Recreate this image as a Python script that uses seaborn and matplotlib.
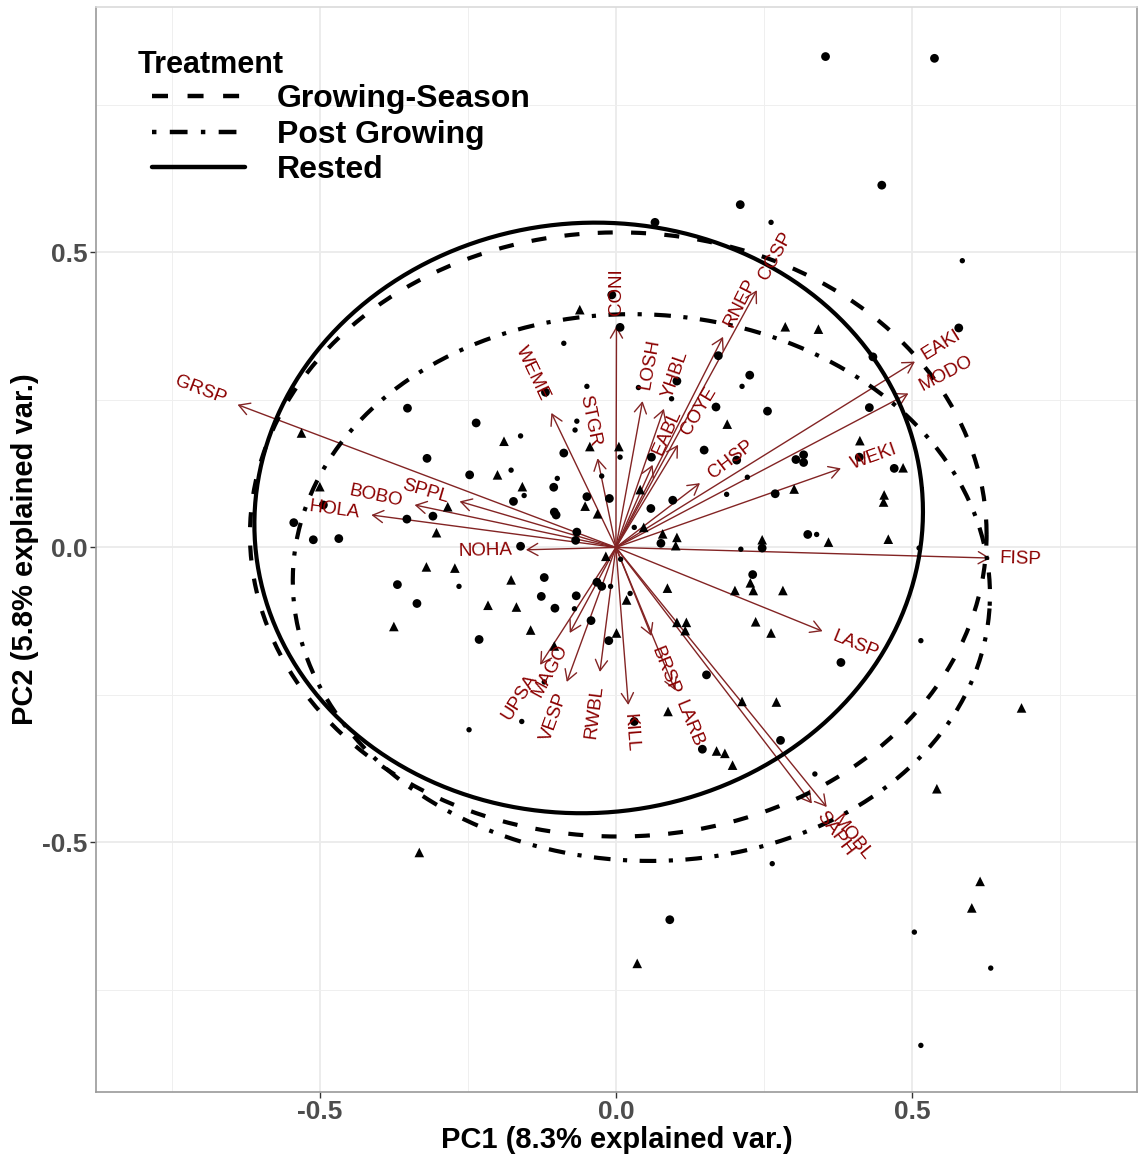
import numpy as np
import pandas as pd
import matplotlib
matplotlib.use("Agg")
import matplotlib.pyplot as plt
import seaborn as sns
from matplotlib.lines import Line2D
from matplotlib.textpath import TextPath
from matplotlib.font_manager import FontProperties

sns.set_theme(style="white")
plt.rcParams["font.family"] = ["Liberation Sans", "DejaVu Sans"]

# ---------------- species loadings (arrow tips on PC1 / PC2) ----------------
species = ["GRSP", "HOLA", "BOBO", "SPPL", "NOHA", "WEME", "STGR", "CONI",
           "LOSH", "YHBL", "EABL", "COYE", "RNEP", "CCSP", "CHSP", "EAKI",
           "MODO", "WEKI", "FISP", "LASP", "SAPH", "MOBL", "LARB", "BRSP",
           "KILL", "RWBL", "VESP", "MAGO", "UPSA"]
load_pc1 = [-0.639, -0.413, -0.340, -0.264, -0.152, -0.109, -0.031, 0.001,
            0.045, 0.081, 0.062, 0.105, 0.181, 0.238, 0.142, 0.505,
            0.494, 0.380, 0.632, 0.349, 0.331, 0.356, 0.100, 0.060,
            0.021, -0.027, -0.083, -0.078, -0.128]
load_pc2 = [0.242, 0.055, 0.072, 0.078, -0.004, 0.228, 0.151, 0.375,
            0.248, 0.235, 0.140, 0.174, 0.357, 0.436, 0.109, 0.315,
            0.261, 0.134, -0.018, -0.142, -0.434, -0.440, -0.242, -0.150,
            -0.267, -0.211, -0.228, -0.145, -0.199]

# ---------------- site scores, three point groups ----------------
g1_pc1 = [0.354, 0.538, 0.449, 0.210, 0.066, -0.007, 0.007, -0.119, -0.352, -0.236,
          -0.088, -0.319, -0.247, -0.105, -0.049, -0.011, -0.173, -0.104, -0.101, -0.494,
          -0.544, -0.511, -0.468, -0.353, -0.309, -0.066, -0.068, -0.161, -0.369, -0.336,
          -0.121, -0.126, -0.067, -0.032, -0.024, -0.103, -0.231, -0.042, -0.012, 0.031,
          0.091, 0.579, 0.173, 0.226, 0.103, 0.169, 0.256, 0.434, 0.428, 0.149,
          0.060, 0.204, 0.411, 0.304, 0.317, 0.317, 0.470, 0.269, 0.096, 0.059,
          0.076, 0.324, 0.247, 0.231, 0.380, 0.153, 0.278, 0.146]
g1_pc2 = [0.832, 0.829, 0.614, 0.581, 0.551, 0.428, 0.373, 0.263, 0.236, 0.211,
          0.160, 0.151, 0.123, 0.102, 0.086, 0.083, 0.078, 0.060, 0.055, 0.072,
          0.042, 0.013, 0.015, 0.048, 0.053, 0.026, 0.012, 0.002, -0.063, -0.095,
          -0.051, -0.083, -0.082, -0.059, -0.066, -0.103, -0.156, -0.124, -0.158, -0.295,
          -0.631, 0.372, 0.325, 0.292, 0.282, 0.238, 0.231, 0.323, 0.237, 0.165,
          0.153, 0.148, 0.153, 0.149, 0.157, 0.144, 0.134, 0.091, 0.080, 0.066,
          0.007, 0.022, -0.001, -0.046, -0.195, -0.216, -0.327, -0.342]

g2_pc1 = [-0.061, -0.531, -0.189, -0.044, 0.005, -0.200, -0.158, -0.052, -0.031, -0.284,
          -0.500, -0.303, -0.017, -0.320, -0.272, -0.177, -0.216, -0.168, -0.144, -0.104,
          0.001, 0.018, 0.087, 0.103, 0.119, 0.117, 0.201, 0.227, 0.232, 0.282,
          0.236, 0.262, 0.213, 0.271, 0.088, 0.170, 0.184, 0.197, -0.332, 0.036,
          0.286, 0.342, 0.188, 0.041, 0.047, 0.079, 0.103, 0.101, 0.412, 0.485,
          0.301, 0.453, 0.452, 0.247, 0.359, 0.460, 0.685, 0.542, 0.615, 0.601,
          -0.375]
g2_pc2 = [0.403, 0.194, 0.180, 0.171, 0.171, 0.123, 0.103, 0.070, 0.057, 0.069,
          0.103, 0.025, -0.015, -0.033, -0.035, -0.055, -0.098, -0.101, -0.140, -0.167,
          -0.145, -0.089, -0.069, -0.127, -0.127, -0.141, -0.073, -0.060, -0.073, -0.073,
          -0.126, -0.145, -0.261, -0.262, -0.278, -0.345, -0.349, -0.369, -0.517, -0.705,
          0.374, 0.370, 0.209, 0.098, 0.034, 0.023, 0.017, 0.003, 0.181, 0.135,
          0.099, 0.089, 0.077, 0.013, 0.009, 0.014, -0.272, -0.409, -0.566, -0.611,
          -0.134]

g3_pc1 = [0.262, 0.585, -0.088, -0.049, -0.066, -0.069, -0.161, 0.007, -0.177, -0.099,
          -0.024, -0.155, 0.008, -0.265, -0.009, -0.070, 0.024, -0.121, -0.159, -0.248,
          0.038, 0.094, 0.213, 0.222, 0.187, 0.031, 0.211, 0.339, 0.512, 0.336,
          0.515, 0.264, 0.504, 0.633, 0.515]
g3_pc2 = [0.551, 0.486, 0.346, 0.273, 0.214, 0.199, 0.189, 0.153, 0.131, 0.117,
          0.121, 0.088, -0.020, -0.066, -0.066, -0.104, -0.078, -0.228, -0.295, -0.309,
          0.271, 0.252, 0.273, 0.119, 0.090, 0.034, -0.003, 0.022, -0.001, -0.384,
          -0.158, -0.536, -0.652, -0.713, -0.844]

# ---------------- treatment ellipses ----------------
treatments = ["Growing-Season", "Post Growing", "Rested"]
ell_cx = [0.004, 0.043, -0.046]
ell_cy = [0.022, -0.068, 0.050]
ell_a = [0.622, 0.589, 0.565]
ell_b = [0.512, 0.463, 0.500]
ell_rot = [0.0, -3.0, 5.0]

pc1_title = "PC1 (8.3% explained var.)"
pc2_title = "PC2 (5.8% explained var.)"
legend_title = "Treatment"
tick_vals = [-0.5, 0.0, 0.5]
tick_text = ["-0.5", "0.0", "0.5"]
minor_vals = [-0.75, -0.25, 0.25, 0.75]

# ---------------- figure ----------------
W, H = 1139, 1159
fig = plt.figure(figsize=(W / 100, H / 100), dpi=100)
pl, pr, pt, pb = 96, 1137, 7, 1092
ax = fig.add_axes([pl / W, 1 - pb / H, (pr - pl) / W, (pb - pt) / H])
ax.set_xlim(-0.878, 0.880)
ax.set_ylim(-0.923, 0.916)
ax.set_axisbelow(True)

# grid
ax.set_xticks(tick_vals)
ax.set_yticks(tick_vals)
ax.set_xticks(minor_vals, minor=True)
ax.set_yticks(minor_vals, minor=True)
ax.grid(which="major", color="#EBEBEB", linewidth=1.3)
ax.grid(which="minor", color="#EFEFEF", linewidth=0.7)

# arrows (drawn first, underneath the points)
arrow_col = "#832424"
for x, y in zip(load_pc1, load_pc2):
    ax.annotate("", xy=(x, y), xytext=(0, 0), zorder=1.5,
                arrowprops=dict(arrowstyle="->,head_length=0.4,head_width=0.23",
                                color=arrow_col, lw=1.0, shrinkA=0, shrinkB=0,
                                mutation_scale=19))

# site scores
pts = pd.DataFrame({
    "PC1": g1_pc1 + g2_pc1 + g3_pc1,
    "PC2": g1_pc2 + g2_pc2 + g3_pc2,
    "Group": ["G1"] * len(g1_pc1) + ["G2"] * len(g2_pc1) + ["G3"] * len(g3_pc1),
})
sns.scatterplot(data=pts, x="PC1", y="PC2", style="Group", size="Group",
                markers={"G1": "o", "G2": "^", "G3": "o"},
                sizes={"G1": 40, "G2": 48, "G3": 15},
                color="black", linewidth=0, legend=False, ax=ax, zorder=2)

# ellipses
t = np.linspace(0, 2 * np.pi, 400)
frames = []
for name, cx, cy, a, b, rot in zip(treatments, ell_cx, ell_cy, ell_a, ell_b, ell_rot):
    r = np.deg2rad(rot)
    ex = cx + a * np.cos(t) * np.cos(r) - b * np.sin(t) * np.sin(r)
    ey = cy + a * np.cos(t) * np.sin(r) + b * np.sin(t) * np.cos(r)
    frames.append(pd.DataFrame({"PC1": ex, "PC2": ey, "Treatment": name}))
ell_df = pd.concat(frames, ignore_index=True)
dash_map = {"Growing-Season": (3.6, 4.4), "Post Growing": (1, 3, 4, 3), "Rested": ""}
ell_lw = 3.0
sns.lineplot(data=ell_df, x="PC1", y="PC2", style="Treatment", style_order=treatments,
             units="Treatment", estimator=None, sort=False, dashes=dash_map,
             color="black", linewidth=ell_lw, legend=False, ax=ax, zorder=3)

# species labels, rotated along each arrow
lab_fp = FontProperties(family="Liberation Sans", size=13.5)
for name, x, y in zip(species, load_pc1, load_pc2):
    ang = np.degrees(np.arctan(y / x))
    w = TextPath((0, 0), name, prop=lab_fp).get_extents().width
    s = np.sign(x)
    dx = s * 0.25 * w * np.cos(np.deg2rad(ang))
    dy = s * 0.25 * w * np.sin(np.deg2rad(ang))
    ax.annotate(name, xy=(x, y), xytext=(dx, dy), textcoords="offset points",
                rotation=ang, rotation_mode="anchor",
                ha="left" if x > 0 else "right", va="center",
                color="#8B0000", fontproperties=lab_fp, zorder=5)

# axes styling
ax.set_xticklabels(tick_text, fontweight="bold")
ax.set_yticklabels(tick_text, fontweight="bold")
ax.tick_params(axis="both", which="major", length=4, width=1.0, color="#333333",
               labelsize=19, labelcolor="#4D4D4D", pad=2, direction="out",
               bottom=True, left=True)
ax.tick_params(axis="both", which="minor", length=0)
for side in ["left", "bottom", "right"]:
    ax.spines[side].set_color("#9A9A9A")
    ax.spines[side].set_linewidth(1.2)
ax.spines["top"].set_color("#DADADA")
ax.spines["top"].set_linewidth(1.2)

ax.set_xlabel(pc1_title, fontsize=21, fontweight="bold", color="black")
ax.set_ylabel(pc2_title, fontsize=21, fontweight="bold", color="black")
ax.xaxis.set_label_coords(0.5, (pb - 1140) / (pb - pt))
ax.xaxis.label.set_va("center")
ax.yaxis.set_label_coords((25 - pl) / (pr - pl), 0.5)
ax.yaxis.label.set_va("center")

# legend for the treatment linetypes
handles = [Line2D([], [], color="black", linewidth=3.2,
                  linestyle=(0, dash_map[k]) if dash_map[k] else "-")
           for k in treatments]
leg_fp = FontProperties(family="Liberation Sans", weight="bold", size=23)
ax.legend(handles, treatments, loc="upper left",
          bbox_to_anchor=(152 / W, 1 - 84.5 / H), bbox_transform=fig.transFigure,
          frameon=False, prop=leg_fp, labelcolor="black", handlelength=2.9,
          handletextpad=1.0, labelspacing=0.17, borderpad=0, borderaxespad=0)
fig.text(138 / W, 1 - 65 / H, legend_title, fontsize=22, fontweight="bold",
         ha="left", va="center", color="black")

fig.savefig("out.png", dpi=100)
